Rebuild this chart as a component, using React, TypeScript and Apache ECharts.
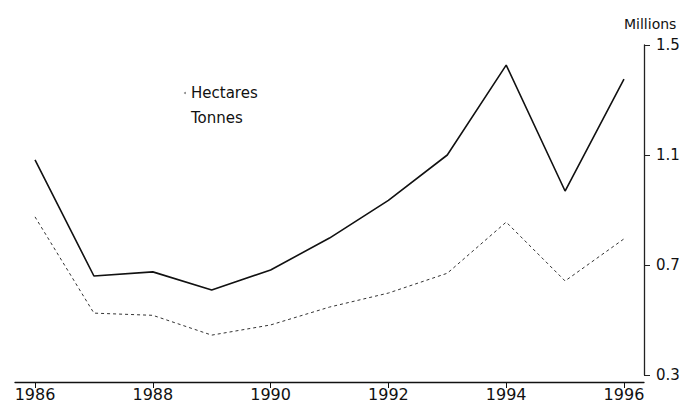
import React, { useEffect, useRef } from "react";
import * as echarts from "echarts";

const years = [1986, 1987, 1988, 1989, 1990, 1991, 1992, 1993, 1994, 1995, 1996];
const hectares = [1.082, 0.66, 0.675, 0.609, 0.682, 0.798, 0.935, 1.1, 1.427, 0.969, 1.376];
const tonnes = [0.875, 0.525, 0.517, 0.445, 0.482, 0.547, 0.598, 0.67, 0.856, 0.642, 0.795];
const xTickYears = [1986, 1988, 1990, 1992, 1994, 1996];
const yTicks = [0.3, 0.7, 1.1, 1.5];

const FONT = "DejaVu Sans";

export default function App() {
  const ref = useRef<HTMLDivElement>(null);
  useEffect(() => {
    if (!ref.current) return;
    const chart = echarts.init(ref.current, undefined, { renderer: "svg" });
    chart.setOption({
      animation: false,
      backgroundColor: "#ffffff",
      title: {
        text: "Millions",
        left: 619,
        top: 12,
        textStyle: { fontFamily: FONT, fontSize: 14, fontWeight: "normal", color: "#111" },
      },
      legend: {
        orient: "vertical",
        left: 179,
        top: 79,
        itemWidth: 2,
        itemHeight: 2,
        itemGap: 7,
        textStyle: { fontFamily: FONT, fontSize: 15, color: "#111", lineHeight: 18 },
        data: [
          { name: "Hectares", icon: "circle", itemStyle: { color: "#888" } },
          { name: "Tonnes", icon: "circle", itemStyle: { opacity: 0 } },
        ],
      },
      grid: { left: 15, right: 54, top: 45, bottom: 31 },
      xAxis: {
        type: "value",
        min: 1985.66,
        max: 1996.34,
        offset: 7,
        splitLine: { show: false },
        axisLine: { show: true, lineStyle: { color: "#111", width: 1.3 } },
        axisTick: { show: true, length: 6, customValues: xTickYears, lineStyle: { color: "#111" } },
        axisLabel: {
          customValues: xTickYears,
          margin: 4,
          fontFamily: FONT,
          fontSize: 16,
          color: "#111",
          formatter: (v: number) => String(Math.round(v)),
        },
      },
      yAxis: {
        type: "value",
        position: "right",
        min: 0.3,
        max: 1.5,
        splitLine: { show: false },
        axisLine: { show: true, lineStyle: { color: "#222", width: 1.3 } },
        axisTick: { show: true, length: 6, customValues: yTicks, lineStyle: { color: "#222" } },
        axisLabel: {
          customValues: yTicks,
          margin: 12,
          fontFamily: FONT,
          fontSize: 15,
          color: "#111",
          formatter: (v: number) => v.toFixed(1),
        },
      },
      series: [
        {
          name: "Hectares",
          type: "line",
          data: years.map((y, i) => [y, hectares[i]]),
          symbol: "none",
          lineStyle: { color: "#111", width: 1.6 },
          itemStyle: { color: "#111" },
        },
        {
          name: "Tonnes",
          type: "line",
          data: years.map((y, i) => [y, tonnes[i]]),
          symbol: "none",
          lineStyle: { color: "#333", width: 1, type: [3, 3] },
          itemStyle: { color: "#333" },
        },
      ],
    });
    return () => chart.dispose();
  }, []);
  return <div ref={ref} style={{ width: 698, height: 406, position: "absolute", left: 0, top: 0 }} />;
}
